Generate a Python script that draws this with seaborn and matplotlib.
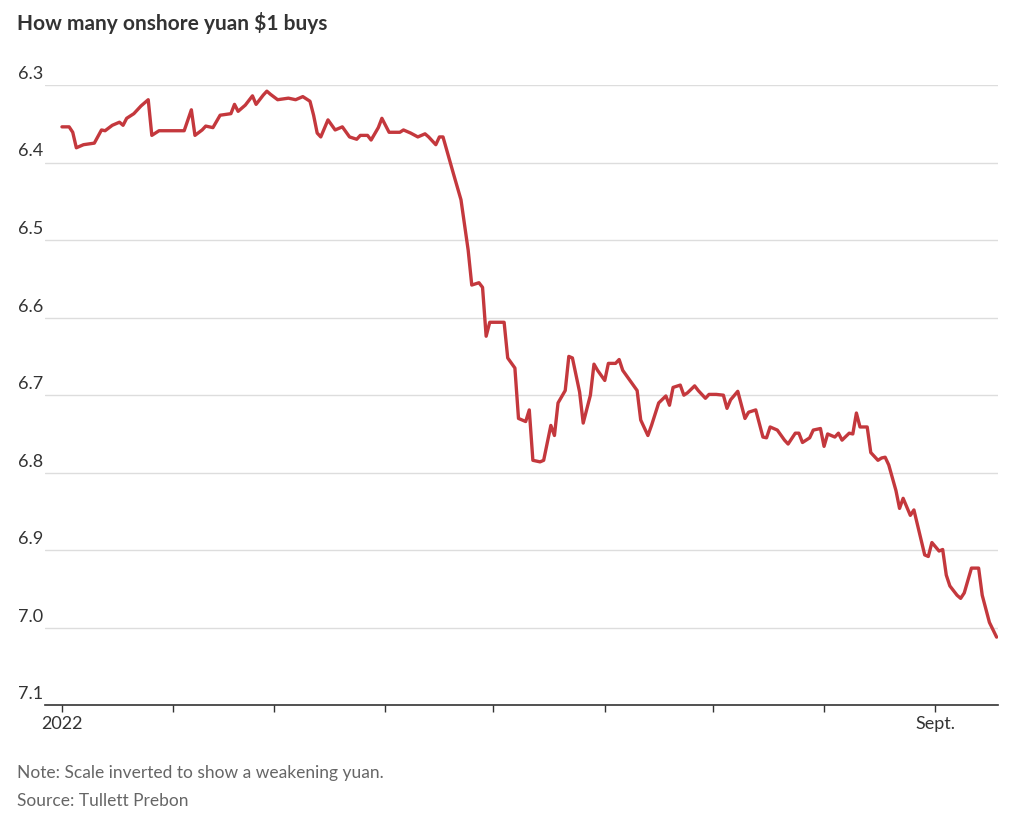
import numpy as np
import pandas as pd
import matplotlib.pyplot as plt
import seaborn as sns

# Days since 2022-01-01 and yuan per dollar
days = [0, 2, 3, 4, 6, 9, 11, 12, 14, 16, 17, 18, 20, 22, 24, 25, 27, 34, 36, 37,
        39, 40, 42, 44, 47, 48, 49, 51, 53, 54, 56, 57, 58, 60, 63, 65, 67, 69, 70, 71,
        72, 74, 76, 78, 80, 82, 83, 85, 86, 88, 89, 91, 94, 95, 97, 99, 101, 102, 104, 105,
        106, 109, 111, 113, 114, 116, 117, 118, 119, 123, 124, 126, 127, 129, 130, 131, 133, 134, 136, 137,
        138, 140, 141, 142, 144, 145, 147, 148, 149, 151, 152, 154, 155, 156, 158, 160, 161, 163, 164, 166,
        168, 169, 170, 172, 173, 174, 176, 177, 179, 180, 182, 184, 185, 186, 188, 190, 191, 193, 195, 196,
        197, 199, 201, 202, 204, 205, 206, 208, 209, 211, 212, 213, 215, 216, 217, 219, 220, 221, 222, 224,
        225, 227, 228, 229, 230, 232, 233, 234, 236, 237, 239, 240, 241, 242, 244, 245, 246, 247, 249, 250,
        251, 253, 255, 256, 258, 260]
rates = [6.354, 6.354, 6.361, 6.381, 6.377, 6.375, 6.358, 6.359, 6.352, 6.348, 6.352, 6.343, 6.337, 6.327, 6.319, 6.365, 6.359, 6.359, 6.332, 6.365,
         6.358, 6.353, 6.355, 6.339, 6.337, 6.325, 6.334, 6.326, 6.314, 6.325, 6.313, 6.308, 6.312, 6.319, 6.317, 6.319, 6.315, 6.321, 6.339, 6.362,
         6.367, 6.345, 6.358, 6.354, 6.367, 6.370, 6.365, 6.365, 6.371, 6.355, 6.343, 6.361, 6.361, 6.358, 6.362, 6.367, 6.363, 6.367, 6.377, 6.367,
         6.367, 6.416, 6.448, 6.513, 6.558, 6.555, 6.561, 6.624, 6.606, 6.606, 6.652, 6.665, 6.730, 6.734, 6.719, 6.784, 6.786, 6.784, 6.739, 6.752,
         6.710, 6.694, 6.650, 6.652, 6.696, 6.736, 6.700, 6.660, 6.668, 6.681, 6.659, 6.659, 6.654, 6.668, 6.681, 6.694, 6.732, 6.752, 6.739, 6.710,
         6.701, 6.713, 6.690, 6.687, 6.700, 6.697, 6.688, 6.694, 6.704, 6.699, 6.699, 6.700, 6.717, 6.706, 6.695, 6.730, 6.722, 6.719, 6.754, 6.755,
         6.741, 6.745, 6.758, 6.763, 6.749, 6.749, 6.761, 6.755, 6.745, 6.743, 6.766, 6.750, 6.754, 6.749, 6.758, 6.749, 6.750, 6.723, 6.741, 6.741,
         6.774, 6.784, 6.781, 6.780, 6.790, 6.823, 6.846, 6.833, 6.855, 6.848, 6.887, 6.906, 6.908, 6.890, 6.901, 6.899, 6.932, 6.946, 6.958, 6.962,
         6.955, 6.923, 6.923, 6.958, 6.993, 7.012]

y_ticks = [6.3, 6.4, 6.5, 6.6, 6.7, 6.8, 6.9, 7.0, 7.1]
month_starts = pd.date_range("2022-01-01", "2022-09-01", freq="MS")
month_labels = ["2022", "", "", "", "", "", "", "", "Sept."]

base = pd.Timestamp("2022-01-01")
df = pd.DataFrame({"date": base + pd.to_timedelta(days, unit="D"), "rate": rates})

sns.set_style("white")
plt.rcParams["font.family"] = ["Lato", "DejaVu Sans"]

fig = plt.figure(figsize=(10.24, 8.25), dpi=100)
ax = fig.add_axes([0.044, 0.145, 0.931, 0.752])

for v in y_ticks[:-1]:
    ax.axhline(v, color="#dddddd", lw=1, zorder=0)
sns.lineplot(data=df, x="date", y="rate", ax=ax, color="#c4383d", lw=2.4)

ax.set_ylim(7.1, 6.3)
ax.set_xlim(base - pd.Timedelta(days=4.7), base + pd.Timedelta(days=260.5))
for s in ["top", "right", "left"]:
    ax.spines[s].set_visible(False)
ax.spines["bottom"].set_color("#333333")
ax.spines["bottom"].set_linewidth(1.2)

ax.set_yticks([])
for v in y_ticks:
    ax.text(-0.028, v - 0.004, f"{v:.1f}", transform=ax.get_yaxis_transform(),
            ha="left", va="bottom", fontsize=13, color="#333333")

ax.set_xticks(month_starts)
ax.set_xticklabels(month_labels, fontsize=13, color="#333333")
ax.tick_params(axis="x", length=5, width=1, color="#333333", pad=3, bottom=True)
ax.set_xlabel("")
ax.set_ylabel("")

fig.text(0.017, 0.972, "How many onshore yuan $1 buys", fontsize=15, fontweight="bold",
         color="#333333", va="center")
fig.text(0.017, 0.063, "Note: Scale inverted to show a weakening yuan.", fontsize=12.5,
         color="#666666", va="center")
fig.text(0.017, 0.029, "Source: Tullett Prebon", fontsize=12.5, color="#666666", va="center")

fig.savefig("out.png", dpi=100)
